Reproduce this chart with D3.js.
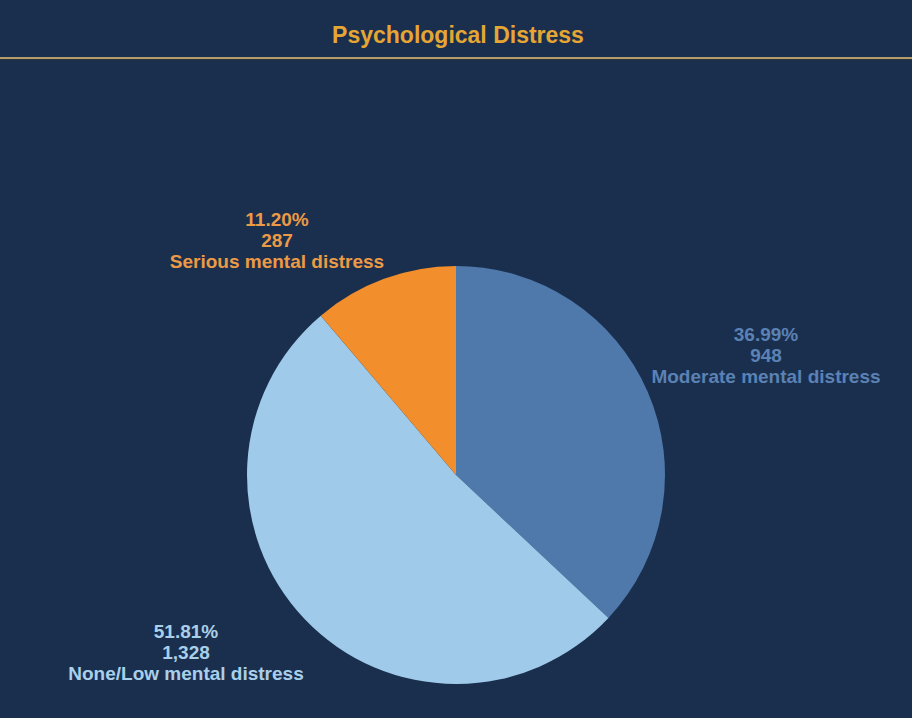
<!DOCTYPE html>
<html>
<head>
<meta charset="utf-8">
<script src="https://cdn.jsdelivr.net/npm/d3@7"></script>
<style>
  html, body { margin: 0; padding: 0; background: #1a2f4e; }
  svg { display: block; }
</style>
</head>
<body>
<svg id="chart" width="912" height="718"></svg>
<script>
// ---- data ----
const categories = ["Moderate mental distress", "None/Low mental distress", "Serious mental distress"];
const counts = [948, 1328, 287];
const percents = ["36.99%", "51.81%", "11.20%"];
const countLabels = ["948", "1,328", "287"];

// ---- styles / layout ----
const sliceColors = ["#4f79aa", "#9fcae9", "#f28e2b"];
const labelColors = ["#5a82b5", "#a9cfea", "#ec9a45"];
const labelLayout = [
  { x: 766, y: 341 },
  { x: 186, y: 638 },
  { x: 277, y: 226 }
];

const W = 912, H = 718;
const svg = d3.select("#chart");
svg.append("rect").attr("width", W).attr("height", H).attr("fill", "#1a2f4e");

svg.append("text")
  .attr("x", 458).attr("y", 43)
  .attr("text-anchor", "middle")
  .attr("font-family", "Liberation Sans, Arial, sans-serif")
  .attr("font-weight", "bold")
  .attr("font-size", 23)
  .attr("fill", "#e6a634")
  .text("Psychological Distress");

svg.append("rect").attr("x", 0).attr("y", 57).attr("width", W).attr("height", 2).attr("fill", "#b39d6c");
svg.append("rect").attr("x", 0).attr("y", 59).attr("width", W).attr("height", 1).attr("fill", "#3a3a2a").attr("opacity", 0.6);

const cx = 456, cy = 475, R = 209;
const g = svg.append("g").attr("transform", `translate(${cx},${cy})`);

const data = categories.map((c, i) => ({ cat: c, value: counts[i], i }));
const pie = d3.pie().value(d => d.value).sort(null);
const arc = d3.arc().innerRadius(0).outerRadius(R);

g.selectAll("path").data(pie(data)).join("path")
  .attr("d", arc)
  .attr("fill", d => sliceColors[d.data.i]);

const labels = svg.selectAll("text.lbl").data(data).join("text")
  .attr("class", "lbl")
  .attr("text-anchor", "middle")
  .attr("font-family", "Liberation Sans, Arial, sans-serif")
  .attr("font-weight", "bold")
  .attr("font-size", 19)
  .attr("fill", d => labelColors[d.i]);

labels.each(function(d) {
  const t = d3.select(this);
  const p = labelLayout[d.i];
  const lines = [percents[d.i], countLabels[d.i], d.cat];
  lines.forEach((s, k) => {
    t.append("tspan").attr("x", p.x).attr("y", p.y + k * 21).text(s);
  });
});
</script>
</body>
</html>
